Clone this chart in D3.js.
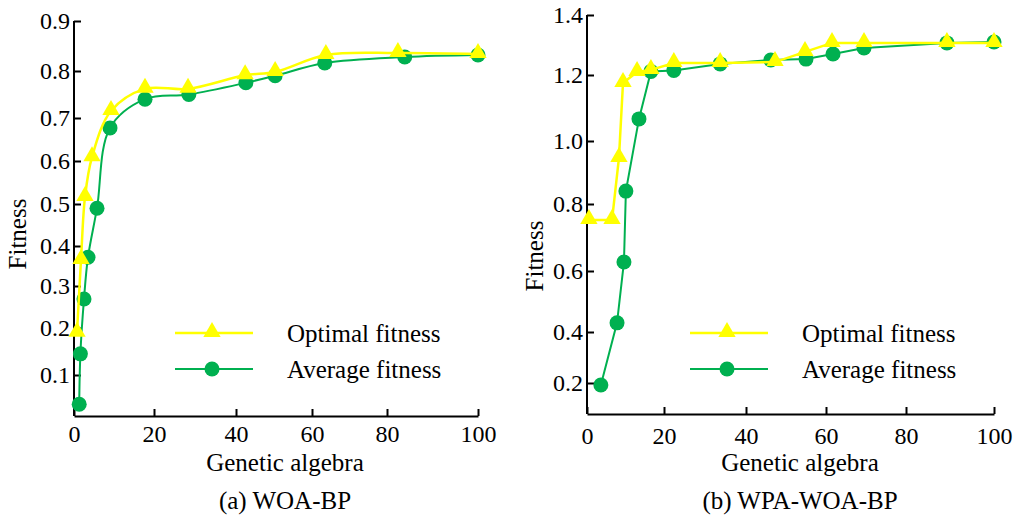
<!DOCTYPE html>
<html>
<head>
<meta charset="utf-8">
<script src="https://cdn.jsdelivr.net/npm/d3@7"></script>
<style>
  body { margin: 0; background: #fff; }
</style>
</head>
<body>
<div id="chart"></div>
<script>
// ---- data ----
var xTicks = [0, 20, 40, 60, 80, 100];

// (a) WOA-BP
var aYTicks = [0.1, 0.2, 0.3, 0.4, 0.5, 0.6, 0.7, 0.8, 0.9];
var aOptX = [0.75, 1.75, 2.75, 4.5, 9.25, 17.75, 28.3, 42.4, 50.3, 63.7, 82.4, 100];
var aOptY = [0.19, 0.365, 0.516, 0.609, 0.715, 0.762, 0.762, 0.791, 0.798, 0.832, 0.836, 0.834];
var aAvgX = [1.3, 1.6, 2.5, 3.5, 5.75, 9, 17.75, 28.5, 42.6, 50.3, 63.4, 83.9, 100];
var aAvgY = [0.038, 0.145, 0.269, 0.372, 0.49, 0.677, 0.74, 0.75, 0.775, 0.79, 0.816, 0.828, 0.832];

// (b) WPA-WOA-BP
var bYTicks = [0.2, 0.4, 0.6, 0.8, 1.0, 1.2, 1.4];
var bOptX = [0.5, 6.5, 8.3, 9.35, 13, 16.6, 22.4, 33.7, 47.25, 54.75, 61.5, 69.5, 89.3, 100];
var bOptY = [0.752, 0.752, 0.946, 1.176, 1.21, 1.217, 1.24, 1.24, 1.243, 1.277, 1.307, 1.307, 1.307, 1.307];
var bAvgX = [3.6, 7.8, 9.6, 10.1, 13.5, 16.6, 22.4, 33.7, 46.2, 55, 61.75, 69.5, 89.3, 100];
var bAvgY = [0.192, 0.43, 0.627, 0.841, 1.067, 1.212, 1.215, 1.237, 1.25, 1.253, 1.27, 1.29, 1.307, 1.31];

var seriesNames = ["Optimal fitness", "Average fitness"];
var yellow = "#ffff00", green = "#00b050";
var FONT = "'Liberation Serif', 'DejaVu Serif', serif";

var svg = d3.select("#chart").append("svg").attr("width", 1017).attr("height", 518)
  .attr("font-family", FONT);

// the original axes are not evenly spaced, so the scales are piecewise
function panel(cfg) {
  var x = d3.scaleLinear().domain(xTicks).range(cfg.xRange);
  var y = d3.scaleLinear().domain(cfg.yDomain).range(cfg.yRange);
  var g = svg.append("g");

  var xa = g.append("g").attr("transform", "translate(0," + cfg.yRange[0] + ")")
    .call(d3.axisBottom(x).tickValues(xTicks).tickSizeInner(-7).tickSizeOuter(0).tickPadding(cfg.xPad)
      .tickFormat(d3.format("d")));
  var ya = g.append("g").attr("transform", "translate(" + cfg.xRange[0] + ",0)")
    .call(d3.axisLeft(y).tickValues(cfg.yTicks).tickSizeInner(-7).tickSizeOuter(0).tickPadding(4)
      .tickFormat(d3.format(".1f")));
  [xa, ya].forEach(function (a) {
    a.attr("font-family", FONT).attr("font-size", 24);
    a.selectAll("path,line").attr("stroke", "#000").attr("stroke-width", 2);
    a.selectAll("text").attr("fill", "#000");
  });
  // y axis line must reach the top tick
  ya.select(".domain").attr("d", "M0," + cfg.yRange[0] + "V" + y(cfg.yTicks[cfg.yTicks.length - 1]));

  var tri = d3.symbol().type(d3.symbolTriangle).size(130);

  function draw(xs, ys, color, width, curve, marker) {
    var pts = xs.map(function (v, i) { return [x(v), y(ys[i])]; });
    g.append("path").attr("d", d3.line().curve(curve)(pts))
      .attr("fill", "none").attr("stroke", color).attr("stroke-width", width);
    pts.forEach(function (p) {
      if (marker === "circle") {
        g.append("circle").attr("cx", p[0]).attr("cy", p[1]).attr("r", 7.5).attr("fill", color);
      } else {
        g.append("path").attr("d", tri).attr("transform", "translate(" + p[0] + "," + (p[1] - 1) + ")").attr("fill", color);
      }
    });
  }
  draw(cfg.avgX, cfg.avgY, green, 2, cfg.curve, "circle");
  draw(cfg.optX, cfg.optY, yellow, 2.5, cfg.curve, "tri");

  // legend
  var L = cfg.legend;
  [[yellow, "tri", 2.5], [green, "circle", 2]].forEach(function (s, i) {
    var ly = L[1] + i * 36;
    g.append("line").attr("x1", L[0]).attr("x2", L[0] + 78).attr("y1", ly).attr("y2", ly)
      .attr("stroke", s[0]).attr("stroke-width", s[2]);
    if (s[1] === "circle") g.append("circle").attr("cx", L[0] + 37).attr("cy", ly).attr("r", 7.5).attr("fill", s[0]);
    else g.append("path").attr("d", tri).attr("transform", "translate(" + (L[0] + 37) + "," + (ly - 1) + ")").attr("fill", s[0]);
    g.append("text").attr("x", L[0] + 112).attr("y", ly + 9).attr("font-size", 25).text(seriesNames[i]);
  });

  g.append("text").attr("transform", "translate(" + cfg.yTitle[0] + "," + cfg.yTitle[1] + ") rotate(-90)")
    .attr("text-anchor", "middle").attr("font-size", 25).text("Fitness");
  g.append("text").attr("x", cfg.center).attr("y", 471).attr("text-anchor", "middle")
    .attr("font-size", 25).text("Genetic algebra");
  g.append("text").attr("x", cfg.center).attr("y", 509).attr("text-anchor", "middle")
    .attr("font-size", 25).text(cfg.caption);
}

panel({
  xRange: [74, 154, 236, 312, 387, 478], xPad: 9,
  yDomain: [0.013, 0.1, 0.2, 0.3, 0.4, 0.5, 0.6, 0.7, 0.8, 0.9],
  yRange: [416, 375, 328, 286, 246, 204, 161, 118, 71, 21],
  yTicks: aYTicks,
  optX: aOptX, optY: aOptY, avgX: aAvgX, avgY: aAvgY,
  curve: d3.curveCatmullRom.alpha(0.5),
  legend: [175, 333], yTitle: [26, 234], center: 285, caption: "(a) WOA-BP"
});

panel({
  xRange: [587, 664, 746, 826, 906, 994], xPad: 13,
  yDomain: [0.08, 0.2, 0.4, 0.6, 0.8, 1.0, 1.2, 1.4],
  yRange: [414, 383, 332, 271, 204, 141, 75, 15],
  yTicks: bYTicks,
  optX: bOptX, optY: bOptY, avgX: bAvgX, avgY: bAvgY,
  curve: d3.curveLinear,
  legend: [690, 333], yTitle: [543, 256], center: 800, caption: "(b) WPA-WOA-BP"
});
</script>
</body>
</html>
